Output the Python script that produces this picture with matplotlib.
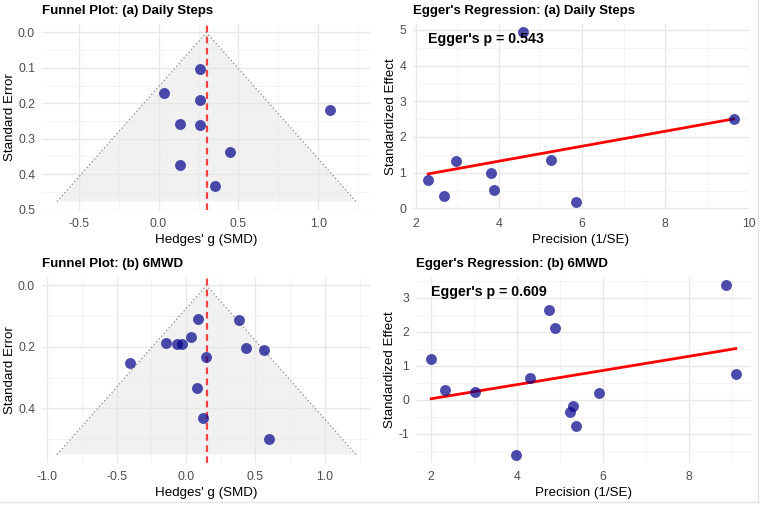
import matplotlib
matplotlib.use("Agg")
import matplotlib.pyplot as plt
import numpy as np
from matplotlib.lines import Line2D
from matplotlib.ticker import FixedLocator, FuncFormatter

plt.rcParams["font.family"] = ["Liberation Sans", "DejaVu Sans"]
plt.rcParams["axes.unicode_minus"] = False

# (a) Daily Steps: Hedges' g and standard error per study
steps_g = [0.259, 0.033, 0.257, 1.074, 0.132, 0.257, 0.447, 0.132, 0.351]
steps_se = [0.1037, 0.171, 0.190, 0.218, 0.258, 0.262, 0.338, 0.373, 0.434]
steps_pooled = 0.30
steps_p = 0.543

# (b) 6MWD
walk_g = [0.595, 0.125, 0.081, -0.403, 0.146, 0.559, 0.434, -0.069, -0.032,
          -0.143, 0.036, 0.379, 0.084]
walk_se = [0.500, 0.431, 0.332, 0.251, 0.232, 0.211, 0.2045, 0.191, 0.189,
           0.186, 0.169, 0.1127, 0.110]
walk_pooled = 0.147
walk_p = 0.609

W, H = 767, 507
fig = plt.figure(figsize=(W / 100, H / 100), dpi=100)
fig.patch.set_facecolor("white")

PT_COLOR = (0, 0, 139 / 255, 0.7)
GRID_MAJ = "#e8e8e8"
GRID_MIN = "#f2f2f2"
LAB_SIZE = 9.6
TICK_SIZE = 8.7


def make_ax(left, top, right, bottom):
    return fig.add_axes([left / W, 1 - bottom / H, (right - left) / W, (bottom - top) / H])


def expand(lo, hi, f=0.05):
    d = (hi - lo) * f
    return lo - d, hi + d


def style(ax, xmaj, xmin, ymaj, ymin, xfmt, yfmt):
    for s in ax.spines.values():
        s.set_visible(False)
    ax.xaxis.set_major_locator(FixedLocator(xmaj))
    ax.xaxis.set_minor_locator(FixedLocator(xmin))
    ax.yaxis.set_major_locator(FixedLocator(ymaj))
    ax.yaxis.set_minor_locator(FixedLocator(ymin))
    ax.xaxis.set_major_formatter(FuncFormatter(lambda v, p: xfmt.format(v)))
    ax.yaxis.set_major_formatter(FuncFormatter(lambda v, p: yfmt.format(v)))
    ax.grid(True, which="major", color=GRID_MAJ, lw=1.0)
    ax.grid(True, which="minor", color=GRID_MIN, lw=0.6)
    ax.set_axisbelow(True)
    ax.tick_params(which="both", length=0, labelsize=TICK_SIZE, labelcolor="#4d4d4d")
    ax.tick_params(axis="y", pad=5)
    ax.tick_params(axis="x", pad=5.5)


def funnel(ax, g, se, pooled, title, xmaj, ymaj, ymin):
    g = np.array(g)
    se = np.array(se)
    top_se = se.max() * 1.1
    xs = [pooled - 1.96 * top_se, pooled, pooled + 1.96 * top_se]
    ys = [top_se, 0, top_se]
    ax.fill(xs, ys, color="#e6e6e6", alpha=0.55, lw=0, zorder=1)
    ax.plot(xs, ys, color="#888888", ls=(0, (1, 2)), lw=0.9, zorder=2)
    ax.axvline(pooled, color="#ff4040", ls=(0, (3, 2)), lw=1.6, zorder=3)
    ax.scatter(g, se, s=62, color=PT_COLOR, lw=0, zorder=4)
    x0, x1 = expand(min(xs[0], g.min()), max(xs[2], g.max()))
    y0, y1 = expand(0, max(top_se, se.max()))
    ax.set_xlim(x0, x1)
    ax.set_ylim(y1, y0)
    xmin = [m + 0.25 for m in xmaj[:-1]] + [xmaj[0] - 0.25, xmaj[-1] + 0.25]
    style(ax, xmaj, xmin, ymaj, ymin, "{:.1f}", "{:.1f}")
    ax.set_xlabel("Hedges' g (SMD)", fontsize=LAB_SIZE, labelpad=3)
    ax.set_ylabel("Standard Error", fontsize=LAB_SIZE, labelpad=1.5)
    ax.set_title(title, loc="left", fontweight="bold", fontsize=9.5, pad=7)


def egger(ax, g, se, p, title, xmaj, xmin, ymaj, ymin):
    prec = 1 / np.array(se)
    eff = np.array(g) / np.array(se)
    ax.scatter(prec, eff, s=62, color=PT_COLOR, lw=0, zorder=4)
    b, a = np.polyfit(prec, eff, 1)
    xx = np.linspace(prec.min(), prec.max(), 50)
    ax.plot(xx, a + b * xx, color="red", lw=2.0, zorder=3)
    ax.text(prec.min(), eff.max(), "Egger's p = {:.3f}".format(p), ha="left", va="top",
            fontsize=10.2, fontweight="bold", zorder=5)
    ax.set_xlim(*expand(prec.min(), prec.max()))
    ax.set_ylim(*expand(eff.min(), eff.max()))
    style(ax, xmaj, xmin, ymaj, ymin, "{:.0f}", "{:.0f}")
    ax.set_xlabel("Precision (1/SE)", fontsize=LAB_SIZE, labelpad=3)
    ax.set_ylabel("Standardized Effect", fontsize=LAB_SIZE, labelpad=1.5)
    ax.set_title(title, loc="left", fontweight="bold", fontsize=9.5, pad=7)


ax1 = make_ax(42, 24, 371, 210)
funnel(ax1, steps_g, steps_se, steps_pooled, "Funnel Plot: (a) Daily Steps",
       [-0.5, 0.0, 0.5, 1.0], [0.0, 0.1, 0.2, 0.3, 0.4, 0.5],
       [0.05, 0.15, 0.25, 0.35, 0.45])

ax2 = make_ax(413, 24, 749, 210)
egger(ax2, steps_g, steps_se, steps_p, "Egger's Regression: (a) Daily Steps",
      [2, 4, 6, 8, 10], [3, 5, 7, 9], [0, 1, 2, 3, 4, 5],
      [0.5, 1.5, 2.5, 3.5, 4.5])

ax3 = make_ax(42, 277, 371, 463)
funnel(ax3, walk_g, walk_se, walk_pooled, "Funnel Plot: (b) 6MWD",
       [-1.0, -0.5, 0.0, 0.5, 1.0], [0.0, 0.2, 0.4], [0.1, 0.3, 0.5])

ax4 = make_ax(416, 277, 751, 463)
egger(ax4, walk_g, walk_se, walk_p, "Egger's Regression: (b) 6MWD",
      [2, 4, 6, 8], [3, 5, 7, 9], [-1, 0, 1, 2, 3],
      [-1.5, -0.5, 0.5, 1.5, 2.5, 3.5])

# faint frame lines at right and bottom edges of the screenshot
fig.add_artist(Line2D([758 / W, 758 / W], [1 - 503 / H, 1], color="#e2e2e2", lw=1, zorder=-1))
fig.add_artist(Line2D([0, 758 / W], [1 - 502 / H, 1 - 502 / H], color="#e2e2e2", lw=1, zorder=-1))

fig.savefig("out.png", dpi=100, facecolor="white")
